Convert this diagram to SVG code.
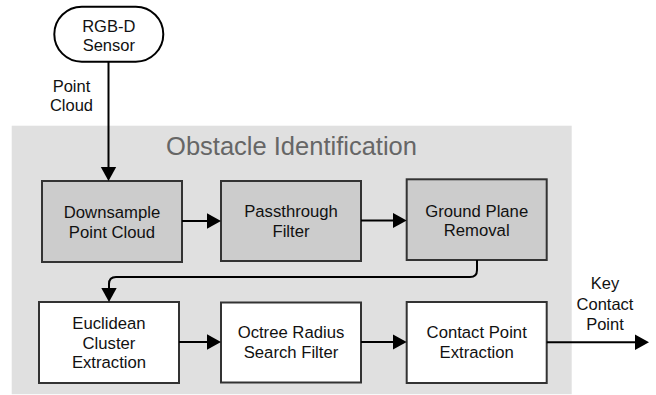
<svg xmlns="http://www.w3.org/2000/svg" width="656" height="395" viewBox="0 0 656 395">
  <style>
    .t { font-family: "Liberation Sans", Arial, sans-serif; fill: #111; text-anchor: middle; }
    .bt { font-size: 16.7px; }
    .lb { font-size: 16.5px; }
    .title { font-family: "Liberation Sans", Arial, sans-serif; font-size: 25.5px; fill: #666; text-anchor: middle; }
    .g1 { fill: #cccccc; stroke: #333; stroke-width: 2; }
    .g2 { fill: #ffffff; stroke: #333; stroke-width: 2; }
    .c { fill: none; stroke: #000; stroke-width: 2; }
  </style>
  <defs>
    <marker id="ah" markerUnits="userSpaceOnUse" markerWidth="16" markerHeight="17" refX="8" refY="8" orient="auto">
      <path d="M0,0.3 L14,8 L0,15.7 z" fill="#000"/>
    </marker>
  </defs>

  <g id="obstacle-identification">
    <rect x="11.7" y="125.7" width="560" height="268.5" fill="#e0e0e0"/>
    <text class="title" x="291.5" y="154.5">Obstacle Identification</text>
  </g>

  <g id="sensor">
    <rect x="54.3" y="6.7" width="109" height="55" rx="27.5" ry="27.5" fill="#fff" stroke="#000" stroke-width="2"/>
    <text class="t lb" x="108.8" y="31.7">RGB-D</text>
    <text class="t lb" x="108.8" y="50.7">Sensor</text>
  </g>

  <g id="downsample">
    <rect class="g1" x="42" y="181" width="140" height="81"/>
    <text class="t bt" x="112" y="218.3">Downsample</text>
    <text class="t bt" x="112" y="238.3">Point Cloud</text>
  </g>

  <g id="passthrough">
    <rect class="g1" x="221" y="181" width="140" height="80"/>
    <text class="t bt" x="291" y="217">Passthrough</text>
    <text class="t bt" x="291" y="237">Filter</text>
  </g>

  <g id="ground-plane">
    <rect class="g1" x="406.7" y="179.3" width="140" height="80.7"/>
    <text class="t bt" x="476.7" y="216.7">Ground Plane</text>
    <text class="t bt" x="476.7" y="235.7">Removal</text>
  </g>

  <g id="euclidean">
    <rect class="g2" x="39" y="302" width="140" height="81"/>
    <text class="t bt" x="109" y="329">Euclidean</text>
    <text class="t bt" x="109" y="348.5">Cluster</text>
    <text class="t bt" x="109" y="368.3">Extraction</text>
  </g>

  <g id="octree">
    <rect class="g2" x="221" y="302.5" width="140" height="80"/>
    <text class="t bt" x="291" y="338.3">Octree Radius</text>
    <text class="t bt" x="291" y="358.3">Search Filter</text>
  </g>

  <g id="contact-point">
    <rect class="g2" x="406.7" y="302" width="140" height="81"/>
    <text class="t bt" x="476.7" y="338">Contact Point</text>
    <text class="t bt" x="476.7" y="358">Extraction</text>
  </g>

  <g id="connectors">
    <path class="c" d="M108.5,62 V175" marker-end="url(#ah)"/>
    <path class="c" d="M182,221 H215" marker-end="url(#ah)"/>
    <path class="c" d="M361,220.5 H400.7" marker-end="url(#ah)"/>
    <path class="c" d="M477,260 V270 Q477,277 470,277 H116 Q109,277 109,284 V296" marker-end="url(#ah)"/>
    <path class="c" d="M179,342 H215" marker-end="url(#ah)"/>
    <path class="c" d="M361,342 H400.7" marker-end="url(#ah)"/>
    <path class="c" d="M546.7,342.3 H643" marker-end="url(#ah)"/>
  </g>

  <g id="labels">
    <text class="t lb" x="71.5" y="92.3">Point</text>
    <text class="t lb" x="71.5" y="111">Cloud</text>
    <text class="t lb" x="605" y="289">Key</text>
    <text class="t lb" x="605" y="309.5">Contact</text>
    <text class="t lb" x="605" y="330">Point</text>
  </g>
</svg>
